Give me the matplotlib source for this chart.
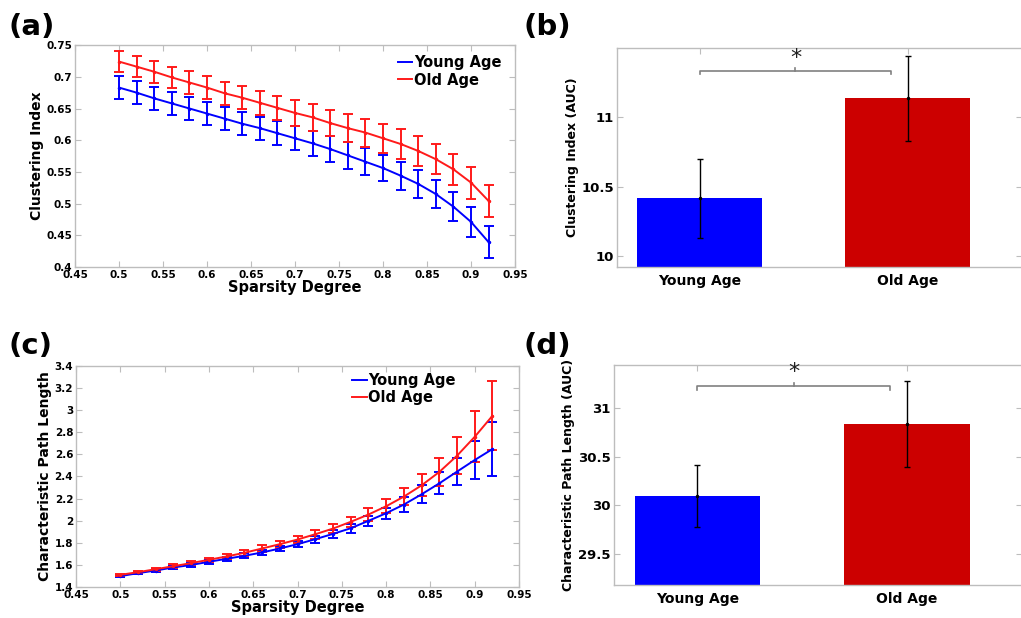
import numpy as np
import matplotlib
matplotlib.use("Agg")
import matplotlib.pyplot as plt
from matplotlib.lines import Line2D

# sparsity levels
sparsity = [0.50, 0.52, 0.54, 0.56, 0.58, 0.60, 0.62, 0.64, 0.66, 0.68, 0.70,
            0.72, 0.74, 0.76, 0.78, 0.80, 0.82, 0.84, 0.86, 0.88, 0.90, 0.92]

# (a) clustering index
clust_young = [0.683, 0.675, 0.666, 0.658, 0.650, 0.642, 0.634, 0.626, 0.619, 0.611, 0.603,
               0.595, 0.586, 0.576, 0.566, 0.556, 0.544, 0.531, 0.515, 0.495, 0.471, 0.439]
clust_young_err = [0.018, 0.018, 0.018, 0.018, 0.018, 0.018, 0.018, 0.018, 0.018, 0.019, 0.019,
                   0.020, 0.020, 0.021, 0.021, 0.021, 0.022, 0.022, 0.022, 0.023, 0.024, 0.025]
clust_old = [0.724, 0.716, 0.708, 0.699, 0.691, 0.683, 0.674, 0.667, 0.659, 0.651, 0.643,
             0.636, 0.627, 0.619, 0.612, 0.603, 0.594, 0.583, 0.570, 0.554, 0.533, 0.504]
clust_old_err = [0.017, 0.017, 0.017, 0.017, 0.018, 0.018, 0.018, 0.018, 0.019, 0.019, 0.020,
                 0.021, 0.021, 0.022, 0.022, 0.023, 0.023, 0.024, 0.024, 0.025, 0.025, 0.025]

# (c) characteristic path length
path_young = [1.499, 1.526, 1.550, 1.578, 1.600, 1.629, 1.656, 1.683, 1.713, 1.749, 1.788,
              1.833, 1.881, 1.932, 1.999, 2.068, 2.146, 2.239, 2.338, 2.444, 2.549, 2.648]
path_young_err = [0.010, 0.012, 0.013, 0.015, 0.017, 0.018, 0.020, 0.022, 0.024, 0.027, 0.030,
                  0.033, 0.036, 0.040, 0.045, 0.050, 0.065, 0.080, 0.100, 0.120, 0.170, 0.245]
path_old = [1.511, 1.535, 1.562, 1.589, 1.617, 1.647, 1.677, 1.710, 1.749, 1.788, 1.830,
            1.878, 1.929, 1.990, 2.056, 2.131, 2.218, 2.320, 2.441, 2.588, 2.759, 2.949]
path_old_err = [0.010, 0.012, 0.014, 0.016, 0.018, 0.020, 0.022, 0.025, 0.028, 0.031, 0.035,
                0.039, 0.043, 0.048, 0.056, 0.065, 0.080, 0.100, 0.130, 0.165, 0.230, 0.310]

groups = ["Young Age", "Old Age"]
auc_clust = [10.416, 11.137]
auc_clust_err = [0.287, 0.305]
auc_path = [30.095, 30.836]
auc_path_err = [0.322, 0.443]

BLUE = "#0000ff"
RED = "#ff1a1a"
BAR_RED = "#cc0000"
SPINE = "#bdbdbd"

plt.rcParams["font.family"] = "DejaVu Sans"
plt.rcParams["font.weight"] = "bold"


def style_axes(ax, fs):
    for s in ax.spines.values():
        s.set_color(SPINE)
        s.set_linewidth(1.0)
    ax.tick_params(direction="in", top=True, right=True, colors=SPINE,
                   labelcolor="black", labelsize=fs, length=4, width=0.8, pad=2)
    for lab in ax.get_xticklabels() + ax.get_yticklabels():
        lab.set_fontweight("bold")


def line_panel(ax, young, young_err, old, old_err, ylabel, ylim, yticks, legend_pos):
    ax.errorbar(sparsity, young, yerr=young_err, color=BLUE, lw=1.4, capsize=3.5,
                elinewidth=1.4, capthick=1.4, marker=".", ms=3)
    ax.errorbar(sparsity, old, yerr=old_err, color=RED, lw=1.4, capsize=3.5,
                elinewidth=1.4, capthick=1.4, marker=".", ms=3)
    ax.set_xlim(0.45, 0.95)
    ax.set_ylim(*ylim)
    ax.set_xticks(np.arange(0.45, 0.951, 0.05))
    ax.set_xticklabels(["0.45", "0.5", "0.55", "0.6", "0.65", "0.7", "0.75",
                        "0.8", "0.85", "0.9", "0.95"])
    ax.set_yticks(yticks)
    ax.set_yticklabels([f"{t:g}" for t in yticks])
    ax.set_xlabel("Sparsity Degree", fontsize=10.5, fontweight="bold", labelpad=0)
    ax.set_ylabel(ylabel, fontsize=10, fontweight="bold", labelpad=2)
    style_axes(ax, 7.5)
    handles = [Line2D([], [], color=BLUE, lw=1.4), Line2D([], [], color=RED, lw=1.4)]
    ax.legend(handles, groups, loc="upper left", bbox_to_anchor=legend_pos, frameon=False,
              prop={"size": 10.5, "weight": "bold"}, handlelength=1.0, handletextpad=0.1,
              labelspacing=0.15, borderaxespad=0)


def bar_panel(ax, vals, errs, ylabel, ylim, yticks, bracket_y, star_y):
    x = [1, 2]
    ax.bar(x, vals, width=0.6, color=[BLUE, BAR_RED], zorder=2)
    ax.errorbar(x, vals, yerr=errs, fmt=".", color="black", ms=3, capsize=2,
                elinewidth=1.0, capthick=1.0, zorder=3)
    ax.set_xlim(0.6, 2.55)
    ax.set_ylim(*ylim)
    ax.set_xticks(x)
    ax.set_xticklabels(groups)
    ax.set_yticks(yticks)
    ax.set_yticklabels([f"{t:g}" for t in yticks])
    ax.set_ylabel(ylabel, fontsize=9, fontweight="bold", labelpad=2)
    style_axes(ax, 9.5)
    ax.tick_params(axis="x", pad=5, labelsize=10)
    # significance bracket
    h = (ylim[1] - ylim[0]) * 0.015
    ax.plot([1, 1, 1.92, 1.92], [bracket_y - h, bracket_y, bracket_y, bracket_y - h],
            color="#808080", lw=1.2)
    ax.plot([1.46, 1.46], [bracket_y, bracket_y + h], color="#808080", lw=1.2)
    ax.text(1.46, star_y, "*", ha="center", va="center", fontsize=16, fontweight="normal",
            color="#202020")


fig = plt.figure(figsize=(10.21, 6.18), dpi=100)

ax_a = fig.add_axes([0.0735, 0.568, 0.431, 0.359])
line_panel(ax_a, clust_young, clust_young_err, clust_old, clust_old_err,
           "Clustering Index", (0.4, 0.75), np.round(np.arange(0.4, 0.751, 0.05), 2),
           (0.72, 0.98))

ax_b = fig.add_axes([0.604, 0.568, 0.397, 0.354])
bar_panel(ax_b, auc_clust, auc_clust_err, "Clustering Index (AUC)", (9.923, 11.498),
          [10, 10.5, 11], 11.334, 11.43)

ax_c = fig.add_axes([0.0744, 0.050, 0.434, 0.358])
line_panel(ax_c, path_young, path_young_err, path_old, path_old_err,
           "Characteristic Path Length", (1.4, 3.4), np.round(np.arange(1.4, 3.41, 0.2), 1),
           (0.61, 0.995))

ax_d = fig.add_axes([0.601, 0.053, 0.400, 0.356])
bar_panel(ax_d, auc_path, auc_path_err, "Characteristic Path Length (AUC)", (29.174, 31.44),
          [29.5, 30, 30.5, 31], 31.223, 31.37)

for lab, (x, y) in zip(["(a)", "(b)", "(c)", "(d)"],
                       [(0.008, 0.957), (0.513, 0.957), (0.008, 0.44), (0.513, 0.44)]):
    fig.text(x, y, lab, fontsize=21, fontweight="bold", va="center", ha="left")

fig.savefig("out.png", dpi=100)
plt.close(fig)
